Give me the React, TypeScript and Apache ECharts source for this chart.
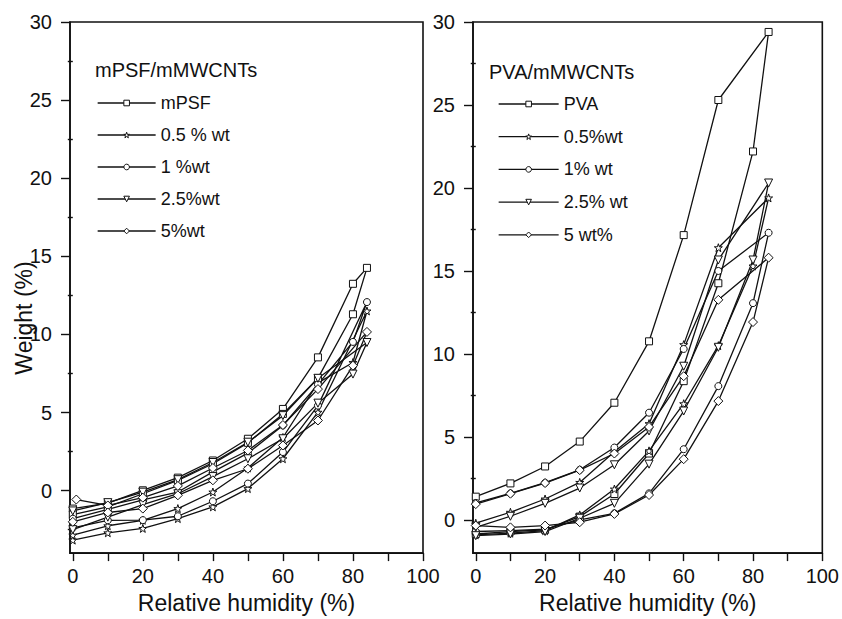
import React, { useEffect, useRef } from "react";
import * as echarts from "echarts";

// ---------- DATA ----------
// Left panel: mPSF / mMWCNTs (sorption loops: rising branch then falling branch)
const leftNames = ["mPSF", "0.5 % wt", "1 %wt", "2.5%wt", "5%wt"];
const leftUpX = [0, 10, 20, 30, 40, 50, 60, 70, 84];
const leftUpXmPSF = [0, 10, 20, 30, 40, 50, 60, 70, 80, 84];
const leftUpX5 = [1, 10, 20, 30, 40, 50, 60, 70, 84];
const leftDownX = [80, 70, 60, 50, 40, 30, 20, 10, 0];

const mPSFUp = [-1.15, -0.8, 0.02, 0.83, 1.93, 3.32, 5.23, 8.53, 13.24, 14.26];
const mPSFDown = [11.29, 7.2, 4.91, 3.06, 1.72, 0.65, -0.2, -1.04, -1.53];
const l05Up = [-3.17, -2.7, -2.42, -1.79, -1.04, 0.13, 2.04, 5.02, 11.5];
const l05Down = [8.2, 6.9, 3.4, 1.45, -0.09, -1.15, -1.9, -2.25, -2.85];
const l1Up = [-2.38, -1.9, -1.89, -1.64, -0.68, 0.45, 2.47, 5.44, 12.07];
const l1Down = [9.52, 6.8, 4.17, 2.4, 1.2, -0.09, -0.6, -1.2, -1.8];
const l25Up = [-1.3, -0.77, -0.1, 0.7, 1.8, 3.1, 4.8, 7.19, 9.48];
const l25Down = [7.46, 5.6, 3.32, 2.04, 0.9, -0.2, -0.9, -1.7, -2.5];
const l5Up = [-0.57, -0.95, -0.45, 0.3, 1.45, 2.57, 4.2, 6.5, 10.16];
const l5Down = [8.0, 4.49, 2.89, 1.4, 0.66, -0.3, -1.15, -1.4, -2.0];

// Right panel: PVA / mMWCNTs
const rightNames = ["PVA", "0.5%wt", "1% wt", "2.5% wt", "5 wt%"];
const rightUpX = [0, 10, 20, 30, 40, 50, 60, 70, 84.5];
const rightDownX = [80, 70, 60, 50, 40, 30, 20, 10, 0];

const pvaUp = [1.4, 2.2, 3.22, 4.72, 7.06, 10.76, 17.16, 25.3, 29.4];
const pvaDown = [22.2, 14.26, 8.36, 4.0, 1.56, 0.2, -0.6, -0.7, -0.85];
const r05Up = [-0.2, 0.46, 1.26, 2.26, 4.1, 5.8, 10.56, 16.4, 19.4];
const r05Down = [15.3, 10.5, 7.0, 4.16, 1.86, 0.3, -0.65, -0.8, -0.9];
const r1Up = [1.02, 1.6, 2.24, 3.02, 4.36, 6.46, 10.3, 15.0, 17.3];
const r1Down = [13.06, 8.06, 4.26, 1.6, 0.4, 0.0, -0.55, -0.65, -0.7];
const r25Up = [-0.45, 0.22, 1.0, 1.92, 3.32, 5.36, 9.26, 15.66, 20.3];
const r25Down = [15.66, 10.4, 6.56, 3.36, 1.0, 0.1, -0.7, -0.85, -0.95];
const r5Up = [0.95, 1.58, 2.22, 3.0, 4.0, 5.6, 8.66, 13.26, 15.8];
const r5Down = [11.92, 7.16, 3.66, 1.5, 0.36, -0.14, -0.34, -0.45, -0.34];

const yLabelValues = [0, 5, 10, 15, 20, 25, 30];
const yMinorLeft = [-2.5, 2.5, 7.5, 12.5, 17.5, 22.5, 27.5];
const yMinorRight = [2.5, 7.5, 12.5, 17.5, 22.5, 27.5];
const xLabelValues = [0, 20, 40, 60, 80, 100];
const xMinorValues = [10, 30, 50, 70, 90];

// ---------- STYLE ----------
const FONT = "Liberation Sans, Arial, sans-serif";
const STAR =
  "path://M50,0 L61.8,35.1 L97.6,34.5 L69,56 L79.4,90.5 L50,70 L20.6,90.5 L31,56 L2.4,34.5 L38.2,35.1 Z";
const symbols = [
  { symbol: "rect", rotate: 0, size: 7 },
  { symbol: STAR, rotate: 0, size: 8 },
  { symbol: "circle", rotate: 0, size: 7 },
  { symbol: "triangle", rotate: 180, size: 8 },
  { symbol: "diamond", rotate: 0, size: 9 },
];

const loop = (upX: number[], up: number[], downX: number[], down: number[]) => [
  ...upX.map((x, i) => [x, up[i]]),
  ...downX.map((x, i) => [x, down[i]]),
];

export default function App() {
  const ref = useRef<HTMLDivElement>(null);

  useEffect(() => {
    if (!ref.current) return;
    const chart = echarts.init(ref.current, null, { renderer: "svg" });

    const leftData = [
      loop(leftUpXmPSF, mPSFUp, leftDownX, mPSFDown),
      loop(leftUpX, l05Up, leftDownX, l05Down),
      loop(leftUpX, l1Up, leftDownX, l1Down),
      loop(leftUpX, l25Up, leftDownX, l25Down),
      loop(leftUpX5, l5Up, leftDownX, l5Down),
    ];
    const rightData = [
      loop(rightUpX, pvaUp, rightDownX, pvaDown),
      loop(rightUpX, r05Up, rightDownX, r05Down),
      loop(rightUpX, r1Up, rightDownX, r1Down),
      loop(rightUpX, r25Up, rightDownX, r25Down),
      loop(rightUpX, r5Up, rightDownX, r5Down),
    ];

    const mkSeries = (name: string, data: number[][], idx: number, gi: number) => ({
      type: "line",
      name,
      data,
      xAxisIndex: gi,
      yAxisIndex: gi * 2,
      symbol: symbols[idx].symbol,
      symbolRotate: symbols[idx].rotate,
      symbolSize: symbols[idx].size,
      showAllSymbol: true,
      lineStyle: { color: "#111", width: 1.3 },
      itemStyle: { color: "#fff", borderColor: "#111", borderWidth: 1 },
      emphasis: { disabled: true },
      z: 3,
    });

    const xAxis = (gi: number) => ({
      type: "value",
      gridIndex: gi,
      min: -0.8,
      max: 100,
      name: "Relative humidity (%)",
      nameLocation: "middle",
      nameGap: 37,
      nameTextStyle: { fontFamily: FONT, fontSize: 23, color: "#111" },
      splitLine: { show: false },
      axisLine: { show: true, onZero: false, lineStyle: { color: "#111", width: 1.6 } },
      axisTick: { show: true, length: 8, customValues: [...xLabelValues, ...xMinorValues], lineStyle: { color: "#111", width: 1.4 } },
      axisLabel: { customValues: xLabelValues, fontFamily: FONT, fontSize: 20, color: "#111", margin: 13 },
    });

    const yAxes = (gi: number, min: number, minor: number[]) => [
      {
        type: "value",
        gridIndex: gi,
        min,
        max: 30,
        splitLine: { show: false },
        axisLine: { show: true, onZero: false, lineStyle: { color: "#111", width: 1.6 } },
        axisTick: { show: true, length: 9, customValues: yLabelValues, lineStyle: { color: "#111", width: 1.4 } },
        axisLabel: { customValues: yLabelValues, fontFamily: FONT, fontSize: 20, color: "#111", margin: 18 },
      },
      {
        type: "value",
        gridIndex: gi,
        min,
        max: 30,
        position: "left",
        splitLine: { show: false },
        axisLine: { show: false },
        axisTick: { show: true, length: 5, customValues: minor, lineStyle: { color: "#111", width: 1.4 } },
        axisLabel: { show: false },
      },
    ];

    const legend = (names: string[], left: number, top: number, width: number, gap: number) => ({
      data: names,
      orient: "vertical",
      left,
      top,
      padding: 0,
      itemWidth: width,
      itemHeight: 7,
      itemGap: gap,
      selectedMode: false,
      itemStyle: { color: "#fff", borderColor: "#111", borderWidth: 1 },
      lineStyle: { color: "#111", width: 1.3 },
      textStyle: { fontFamily: FONT, fontSize: 18, color: "#111", lineHeight: 20 },
    });

    chart.setOption({
      animation: false,
      backgroundColor: "#fff",
      title: [
        { text: "mPSF/mMWCNTs", left: 95, top: 60, padding: 0, textStyle: { fontFamily: FONT, fontSize: 20, fontWeight: "normal", color: "#111" } },
        { text: "PVA/mMWCNTs", left: 489, top: 62, padding: 0, textStyle: { fontFamily: FONT, fontSize: 20, fontWeight: "normal", color: "#111" } },
      ],
      legend: [legend(leftNames, 97, 93, 58, 12), legend(rightNames, 498, 94, 60, 12.7)],
      grid: [
        { left: 70, top: 22, width: 353, height: 534, show: true, borderColor: "#111", borderWidth: 1.6, backgroundColor: "transparent" },
        { left: 473, top: 22, width: 352, height: 534, show: true, borderColor: "#111", borderWidth: 1.6, backgroundColor: "transparent" },
      ],
      xAxis: [xAxis(0), xAxis(1)],
      yAxis: [...yAxes(0, -4, yMinorLeft), ...yAxes(1, -2, yMinorRight)],
      graphic: [
        {
          type: "text",
          x: 24,
          y: 318,
          rotation: Math.PI / 2,
          style: { text: "Weight (%)", fontFamily: FONT, fontSize: 23, fill: "#111", align: "center", verticalAlign: "middle" },
        },
      ],
      series: [
        ...leftNames.map((n, i) => mkSeries(n, leftData[i], i, 0)),
        ...rightNames.map((n, i) => mkSeries(n, rightData[i], i, 1)),
      ],
    });

    return () => chart.dispose();
  }, []);

  return (
    <div
      ref={ref}
      style={{ position: "fixed", left: 0, top: 0, width: 842, height: 619, background: "#fff" }}
    />
  );
}
